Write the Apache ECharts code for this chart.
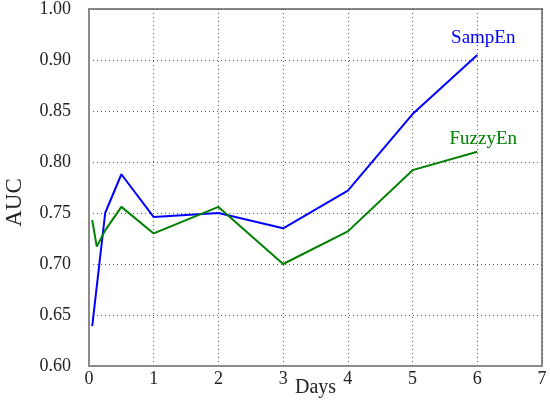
<!DOCTYPE html>
<html>
<head>
<meta charset="utf-8">
<script src="https://cdn.jsdelivr.net/npm/echarts@6/dist/echarts.min.js"></script>
<style>
  html, body { margin: 0; padding: 0; background: #fff; }
  #chart { width: 550px; height: 401px; }
</style>
</head>
<body>
<div id="chart"></div>
<script>
// values
const sampDays = [0.05, 0.25, 0.5, 1, 2, 3, 4, 5, 6];
const sampEn = [0.639, 0.750, 0.788, 0.746, 0.750, 0.735, 0.772, 0.847, 0.905];
const fuzzyDays = [0.05, 0.12, 0.25, 0.5, 1, 2, 3, 4, 5, 6];
const fuzzyEn = [0.743, 0.717, 0.733, 0.756, 0.730, 0.756, 0.700, 0.732, 0.792, 0.810];
// tick labels as printed (top one reads 1.00)
const yTickLabels = ['0.60', '0.65', '0.70', '0.75', '0.80', '0.85', '0.90', '1.00'];

const serif = "'Liberation Serif', 'DejaVu Serif', serif";
const chart = echarts.init(document.getElementById('chart'));

function pairs(xs, ys, name, color, dist) {
  return ys.map((v, i) => {
    const item = { value: [xs[i], v] };
    if (i === ys.length - 1) {
      item.label = {
        show: true,
        formatter: name,
        position: 'top',
        distance: dist,
        offset: [6, 0],
        color: color,
        fontFamily: serif,
        fontSize: 19
      };
    }
    return item;
  });
}

const option = {
  animation: false,
  grid: {
    left: 89, right: 8, top: 9, bottom: 35,
    outerBoundsMode: 'none',
    containLabel: false,
    show: true,
    borderColor: '#8a8a8a',
    borderWidth: 2
  },
  xAxis: {
    type: 'value',
    min: 0, max: 7, interval: 1,
    name: 'Days',
    nameLocation: 'middle',
    nameGap: 12,
    nameMoveOverlap: false,
    nameTextStyle: { fontFamily: serif, fontSize: 20, color: '#222', verticalAlign: 'top' },
    axisLine: { show: true, lineStyle: { color: '#8a8a8a', width: 2 } },
    axisTick: { show: false },
    axisLabel: { fontFamily: serif, fontSize: 18, color: '#222', margin: 4 },
    splitLine: { show: true, lineStyle: { color: '#555', type: [1, 3], width: 1 } }
  },
  yAxis: {
    type: 'value',
    min: 0.6, max: 0.95, interval: 0.05,
    name: 'AUC',
    nameLocation: 'middle',
    nameGap: 63,
    nameMoveOverlap: false,
    nameTextStyle: { fontFamily: serif, fontSize: 23, color: '#222', padding: [0, 0, 0, -30] },
    axisLine: { show: true, lineStyle: { color: '#8a8a8a', width: 2 } },
    axisTick: { show: false },
    axisLabel: {
      fontFamily: serif, fontSize: 18, color: '#222', margin: 18,
      formatter: v => yTickLabels[Math.round((v - 0.6) / 0.05)]
    },
    splitLine: { show: true, lineStyle: { color: '#555', type: [1, 3], width: 1 } }
  },
  series: [
    {
      name: 'SampEn',
      type: 'line',
      data: pairs(sampDays, sampEn, 'SampEn', '#0000ff', 7),
      symbol: 'circle',
      symbolSize: 0,
      showSymbol: true,
      lineStyle: { color: '#0000ff', width: 2 },
      itemStyle: { color: '#0000ff' }
    },
    {
      name: 'FuzzyEn',
      type: 'line',
      data: pairs(fuzzyDays, fuzzyEn, 'FuzzyEn', '#008000', 3),
      symbol: 'circle',
      symbolSize: 0,
      showSymbol: true,
      lineStyle: { color: '#008000', width: 2 },
      itemStyle: { color: '#008000' }
    }
  ]
};
chart.setOption(option);
</script>
</body>
</html>
